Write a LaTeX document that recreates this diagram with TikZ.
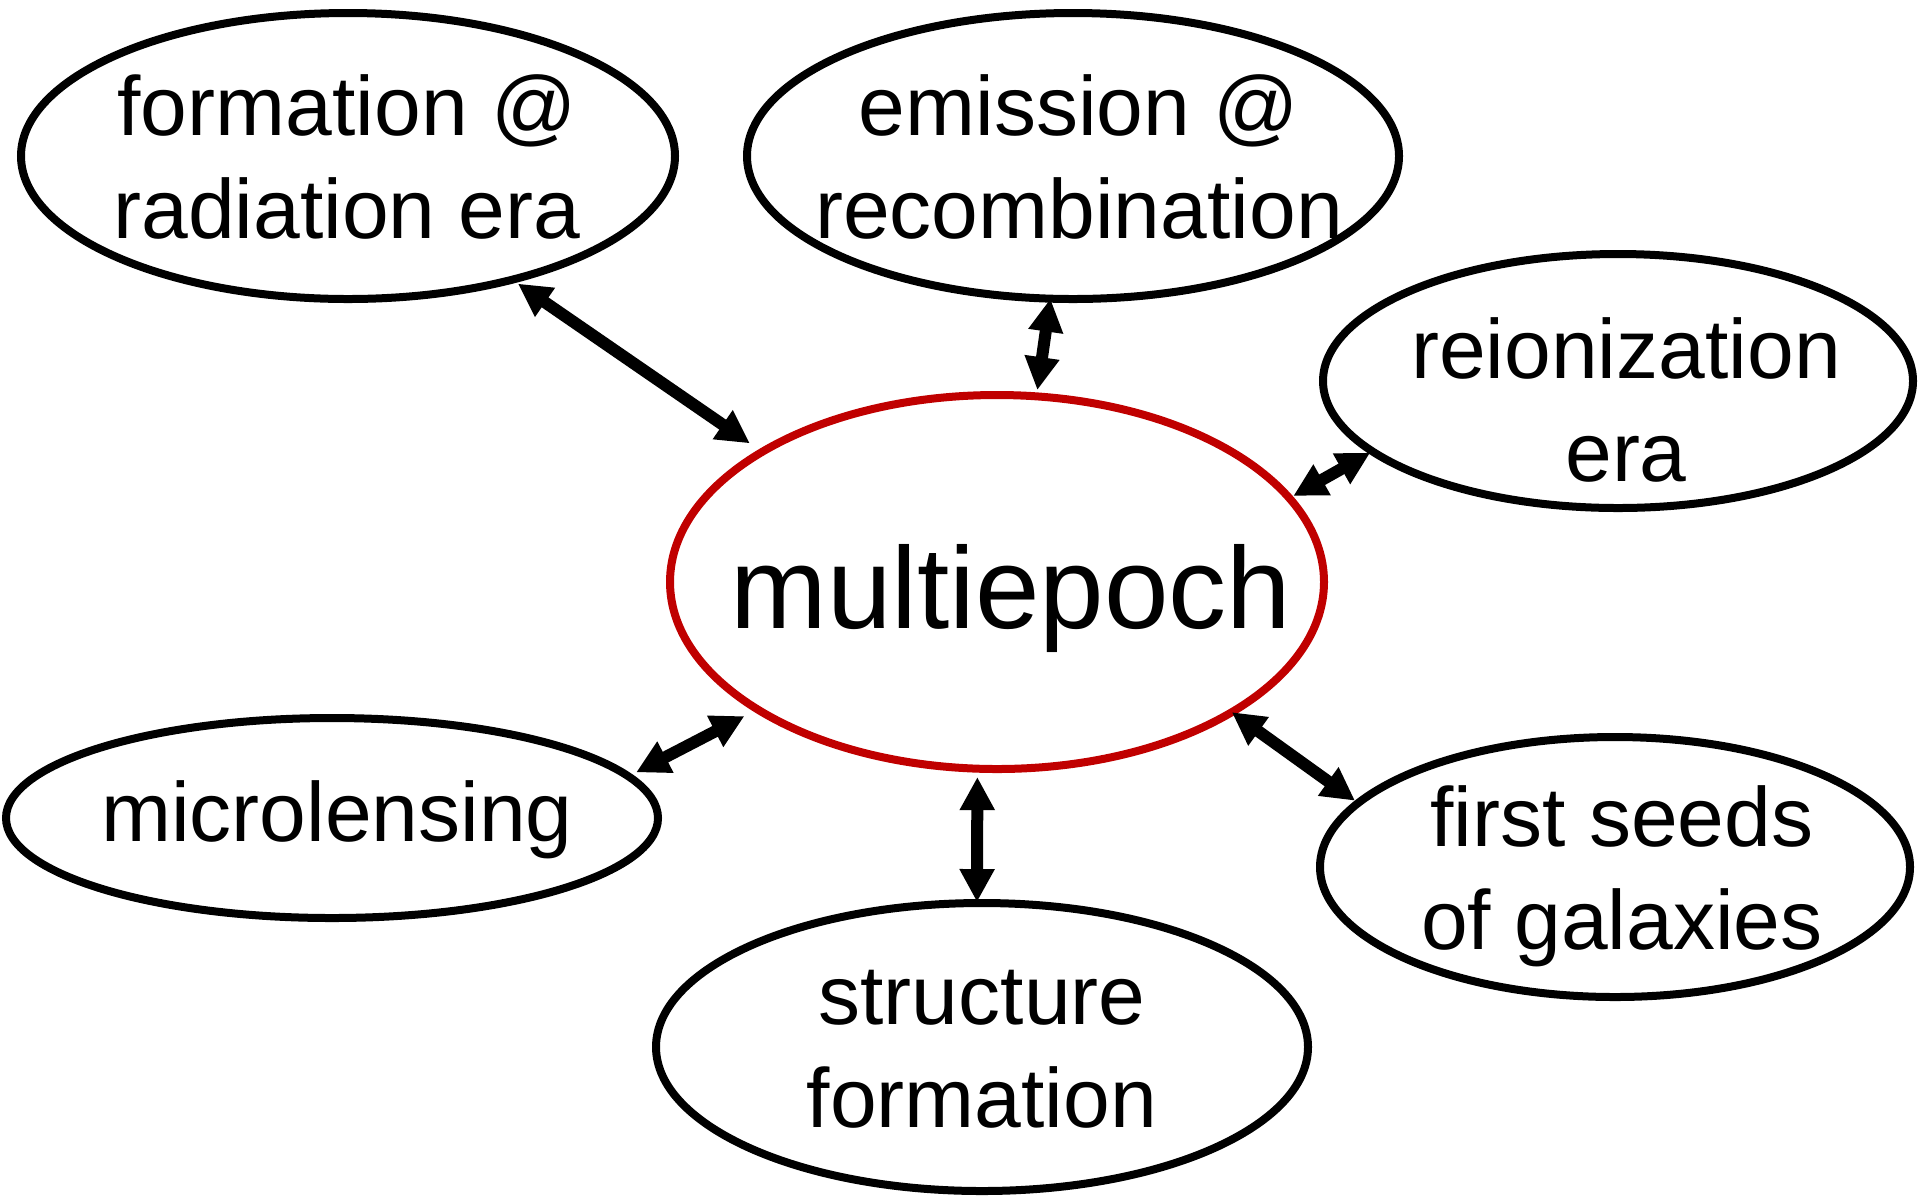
\documentclass[tikz,border=0pt]{standalone}
\usepackage{fontspec}
\setmainfont{Liberation Sans}
\usetikzlibrary{arrows.meta,shapes.geometric}
\definecolor{epochred}{HTML}{C00000}
\begin{document}
\begin{tikzpicture}[x=0.5pt,y=-0.5pt,
  bub/.style={draw=black, line width=4pt, ellipse, inner sep=0pt, outer sep=0pt},
  lbl/.style={font=\fontsize{42}{51.5}\selectfont, align=center, inner sep=0pt, text depth=0pt},
  biglbl/.style={font=\fontsize{58}{70}\selectfont, align=center, inner sep=0pt, text depth=0pt},
  link/.style={line width=6pt, {Triangle[length=16.5pt,width=16.5pt]}-{Triangle[length=16.5pt,width=16.5pt]}},
]
\useasboundingbox (0,0) rectangle (1920,1196);
% ellipses
\node[bub, minimum width=327pt, minimum height=143pt] (e1) at (348,156) {};
\node[bub, minimum width=326pt, minimum height=143pt] (e2) at (1073,156) {};
\node[bub, minimum width=295pt, minimum height=127pt] (e3) at (1618,381) {};
\node[bub, draw=epochred, minimum width=327pt, minimum height=187pt] (m) at (997,582) {};
\node[bub, minimum width=326pt, minimum height=100pt] (e5) at (332,818) {};
\node[bub, minimum width=295pt, minimum height=130pt] (e6) at (1615,867) {};
\node[bub, minimum width=326pt, minimum height=144pt] (e7) at (982,1047) {};
% labels
\node[lbl] (t1) at (347,157) {formation @\\radiation era};
\node[lbl] (t2) at (1079,157) {emission @\\recombination};
\node[lbl] (t3) at (1626,400) {reionization\\era};
\node[biglbl] (tm) at (1011,586) {multiepoch};
\node[lbl] (t5) at (337,811) {microlensing};
\node[lbl] (t6) at (1622,868) {first seeds\\of galaxies};
\node[lbl] (t7) at (982,1049) {structure\\formation};
% connectors
\draw[link, shorten <=3.5pt, shorten >=7.5pt] (e1.-37.8) -- (m.151.5);
\draw[link, shorten <=0pt, shorten >=3.2pt] (e2.-99.4) -- (m.78.8);
\draw[link, shorten <=1.3pt, shorten >=2.3pt] (e3.-164.6) -- (m.16.2);
\draw[link, shorten <=4.4pt, shorten >=7.4pt] (e5.8) -- (m.-152.7);
\draw[link, shorten <=0pt, shorten >=2pt] (m.-29.6) -- (e6.166.3);
\draw[link, shorten <=4.2pt, shorten >=0.5pt] (m.-96.4) -- (e7.92.8);
\end{tikzpicture}
\end{document}
